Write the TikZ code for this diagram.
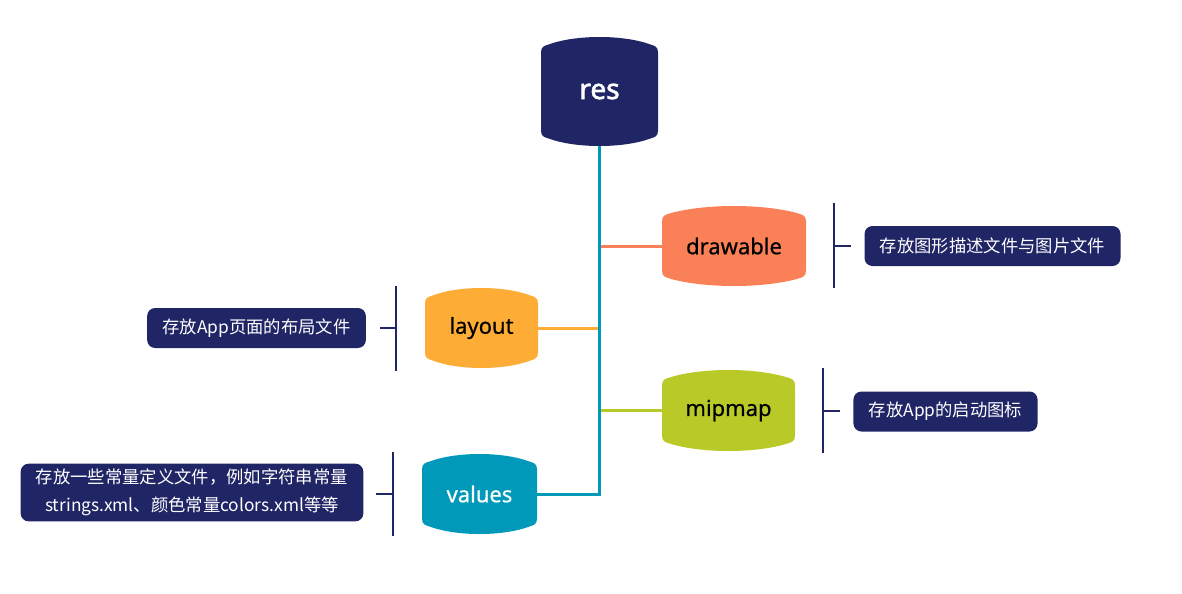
\documentclass[tikz,border=0pt]{standalone}
\usepackage{fontspec}
\setmainfont{Noto Sans}
\newfontfamily\cjk{Noto Sans CJK SC}
\newfontfamily\resfont{Noto Sans}[FakeBold=2.2]
\newfontfamily\topicfont{Noto Sans}[FakeBold=0.5]
\usetikzlibrary{calc}
\definecolor{navy}{HTML}{202566}
\definecolor{tealc}{HTML}{0099B9}
\definecolor{coral}{HTML}{FA8157}
\definecolor{orangec}{HTML}{FDAD36}
\definecolor{limec}{HTML}{B8C928}
\def\blgB{5.5pt}
\def\blgR{6pt}
\newcommand\bulgefill[1]{%
  \path (path picture bounding box.north west) coordinate (bgNW)
        (path picture bounding box.south east) coordinate (bgSE);
  \fill[#1] let \p1=(bgNW), \p2=(bgSE) in
    (\x1,{\y1-\blgB-\blgR}) -- (\x1,{\y2+\blgB+\blgR})
    .. controls (\x1,{\y2+\blgB+0.25*\blgR}) and ({\x1+0.45*\blgR},{\y2+\blgB+0.2*\blgR}) .. ({\x1+\blgR},{\y2+\blgB})
    .. controls ({\x1+0.3*(\x2-\x1)},{\y2-\blgB/3}) and ({\x2-0.3*(\x2-\x1)},{\y2-\blgB/3}) .. ({\x2-\blgR},{\y2+\blgB})
    .. controls ({\x2-0.45*\blgR},{\y2+\blgB+0.2*\blgR}) and (\x2,{\y2+\blgB+0.25*\blgR}) .. (\x2,{\y2+\blgB+\blgR})
    -- (\x2,{\y1-\blgB-\blgR})
    .. controls (\x2,{\y1-\blgB-0.25*\blgR}) and ({\x2-0.45*\blgR},{\y1-\blgB-0.2*\blgR}) .. ({\x2-\blgR},{\y1-\blgB})
    .. controls ({\x2-0.3*(\x2-\x1)},{\y1+\blgB/3}) and ({\x1+0.3*(\x2-\x1)},{\y1+\blgB/3}) .. ({\x1+\blgR},{\y1-\blgB})
    .. controls ({\x1+0.45*\blgR},{\y1-\blgB-0.2*\blgR}) and (\x1,{\y1-\blgB-0.25*\blgR}) .. cycle;
}
\tikzset{
  topic/.style={rectangle, inner sep=0pt, path picture={\bulgefill{#1}},
    font=\topicfont\fontsize{16.5}{20}\selectfont},
  note/.style={fill=navy, rounded corners=6pt, text=white, inner xsep=11.5pt,
    inner ysep=4pt, minimum height=30pt, align=center,
    font=\cjk\fontsize{13}{21}\selectfont},
  branch/.style={line width=2.25pt},
  bracket/.style={draw=navy, line width=2pt}
}
\begin{document}
\begin{tikzpicture}[x=0.75pt,y=-0.75pt]
\useasboundingbox[fill=white] (0,0) rectangle (1182,593);
% topics
\node[topic=navy, minimum width=117*0.75pt, minimum height=109*0.75pt, text=white,
  font=\resfont\fontsize{21}{24}\selectfont] (res) at (599.5,91.5) {res};
\node[topic=coral, minimum width=144*0.75pt, minimum height=80*0.75pt] (drawable) at (734,246) {drawable};
\node[topic=orangec, minimum width=113*0.75pt, minimum height=80*0.75pt] (layout) at (481.5,328) {layout};
\node[topic=limec, minimum width=133*0.75pt, minimum height=81*0.75pt] (mipmap) at (728.5,410.5) {mipmap};
\node[topic=tealc, minimum width=115*0.75pt, minimum height=80*0.75pt, text=white] (values) at (479.5,494) {values};
% connectors
\draw[branch, coral] (drawable.west) -- (drawable.west -| res.south);
\draw[branch, orangec] (layout.east) -- (layout.east -| res.south);
\draw[branch, limec] (mipmap.west) -- (mipmap.west -| res.south);
\draw[branch, tealc] (res.south) |- (values.east);
% notes
\node[note] (ndrawable) at (992.5,246) {存放图形描述文件与图片文件};
\node[note] (nlayout) at (256.5,328) {存放App页面的布局文件};
\node[note] (nmipmap) at (945.5,411.5) {存放App的启动图标};
\node[note] (nvalues) at (192,492.5) {存放一些常量定义文件，例如字符串常量\\strings.xml、颜色常量colors.xml等等};
% brackets
\coordinate (d1) at (834,203); \coordinate (d2) at (834,288);
\coordinate (d3) at (834,246); \coordinate (d4) at (851,246);
\draw[bracket] (d1) -- (d2) (d3) -- (d4);
\coordinate (l1) at (396,286); \coordinate (l2) at (396,371);
\coordinate (l3) at (396,328); \coordinate (l4) at (380,328);
\draw[bracket] (l1) -- (l2) (l3) -- (l4);
\coordinate (m1) at (823,368); \coordinate (m2) at (823,453);
\coordinate (m3) at (823,411); \coordinate (m4) at (840,411);
\draw[bracket] (m1) -- (m2) (m3) -- (m4);
\coordinate (v1) at (393,452); \coordinate (v2) at (393,536);
\coordinate (v3) at (393,494); \coordinate (v4) at (376,494);
\draw[bracket] (v1) -- (v2) (v3) -- (v4);
\end{tikzpicture}
\end{document}
